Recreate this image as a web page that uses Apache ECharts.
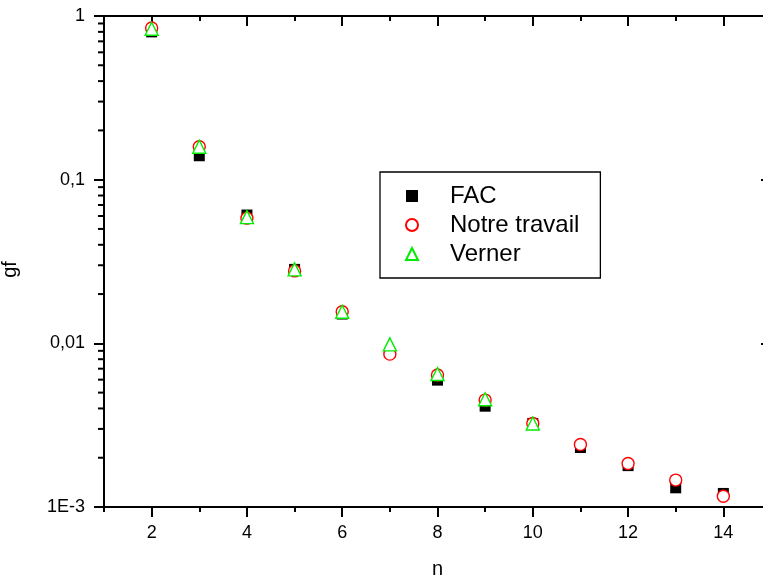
<!DOCTYPE html>
<html>
<head>
<meta charset="utf-8">
<script src="https://cdn.jsdelivr.net/npm/echarts@6/dist/echarts.min.js"></script>
<style>html,body{margin:0;padding:0;background:#fff}#c{width:763px;height:581px}</style>
</head>
<body>
<div id="c"></div>
<script>
// ---- data ----
var nValues = [2, 3, 4, 5, 6, 7, 8, 9, 10, 11, 12, 13, 14];
var facValues = [0.80, 0.140, 0.0608, 0.0283, 0.0151, null, 0.00596, 0.00413, 0.00324, 0.00231, 0.00179, 0.00131, 0.00121];
var notreValues = [0.845, 0.159, 0.0582, 0.0277, 0.0156, 0.00859, 0.0064, 0.0045, 0.00324, 0.00241, 0.001845, 0.00146, 0.001164];
var vernerN = [2, 3, 4, 5, 6, 7, 8, 9, 10];
var vernerValues = [0.836, 0.159, 0.059, 0.0283, 0.0156, 0.00985, 0.0065, 0.00455, 0.00324];
var xCategories = ['1','2','3','4','5','6','7','8','9','10','11','12','13','14','15'];
var xTickLabels = ['', '2', '', '4', '', '6', '', '8', '', '10', '', '12', '', '14', ''];
var yTickValues = [0.001, 0.01, 0.1, 1];
var yTickLabels = ['1E-3', '0,01', '0,1', '1'];
var yMinorTickValues = [0.002,0.003,0.004,0.005,0.006,0.007,0.008,0.009,
                        0.02,0.03,0.04,0.05,0.06,0.07,0.08,0.09,
                        0.2,0.3,0.4,0.5,0.6,0.7,0.8,0.9];
var seriesNames = ['FAC', 'Notre travail', 'Verner'];
var X_MIN = 1, X_MAX = 15;

function pairs(xs, ys) {
  var out = [];
  for (var i = 0; i < xs.length; i++) if (ys[i] != null) out.push([xs[i], ys[i]]);
  return out;
}
function yLabel(v) {
  for (var i = 0; i < yTickValues.length; i++) {
    if (Math.abs(Math.log10(v) - Math.log10(yTickValues[i])) < 1e-6) return yTickLabels[i];
  }
  return '';
}

var FONT = 'Liberation Sans, Arial, sans-serif';
var lineStyle = {color: '#000', width: 2};
var isMajor = function (idx) { return idx % 2 === 1; };

var chart = echarts.init(document.getElementById('c'), null, {renderer: 'canvas'});
chart.setOption({
  animation: false,
  backgroundColor: '#fff',
  grid: {left: 104, top: 16, right: -8, bottom: 74, containLabel: false, outerBoundsMode: 'none'},
  legend: {
    orient: 'vertical', left: 380, top: 172,
    padding: [12, 21, 12, 25],
    itemGap: 5, itemWidth: 12, itemHeight: 12,
    borderColor: '#000', borderWidth: 1.3, borderRadius: 0,
    backgroundColor: '#fff',
    textStyle: {fontFamily: FONT, fontSize: 24, color: '#000', padding: [0, 0, 0, 27]},
    data: seriesNames
  },
  xAxis: [
    {type: 'value', min: X_MIN, max: X_MAX, show: false, gridIndex: 0},
    {type: 'category', data: xCategories, boundaryGap: false, position: 'bottom',
     axisLine: {show: true, lineStyle: lineStyle},
     axisTick: {show: true, length: 10, inside: false, interval: isMajor, lineStyle: lineStyle},
     axisLabel: {interval: isMajor, formatter: function (v, i) { return xTickLabels[i]; },
                 margin: 17, fontFamily: FONT, fontSize: 18, color: '#000'},
     splitLine: {show: false},
     name: 'n', nameLocation: 'middle', nameGap: 52,
     nameTextStyle: {fontFamily: FONT, fontSize: 20, color: '#000'}},
    {type: 'category', data: xCategories, boundaryGap: false, position: 'bottom',
     axisLine: {show: false}, axisLabel: {show: false}, splitLine: {show: false},
     axisTick: {show: true, length: 5, inside: false, interval: 0, lineStyle: lineStyle}},
    {type: 'category', data: xCategories, boundaryGap: false, position: 'top',
     axisLine: {show: true, lineStyle: lineStyle}, axisLabel: {show: false}, splitLine: {show: false},
     axisTick: {show: true, length: 10, inside: true, interval: isMajor, lineStyle: lineStyle}},
    {type: 'category', data: xCategories, boundaryGap: false, position: 'top',
     axisLine: {show: false}, axisLabel: {show: false}, splitLine: {show: false},
     axisTick: {show: true, length: 5, inside: true, interval: 0, lineStyle: lineStyle}}
  ],
  yAxis: [
    {type: 'log', logBase: 10, min: 0.001, max: 1, splitNumber: 3, position: 'left',
     axisLine: {show: true, lineStyle: lineStyle},
     axisTick: {show: true, length: 10, inside: false, lineStyle: lineStyle},
     axisLabel: {formatter: yLabel, margin: 19, fontFamily: FONT, fontSize: 18, color: '#000'},
     splitLine: {show: false},
     name: 'gf', nameLocation: 'middle', nameGap: 84,
     nameTextStyle: {fontFamily: FONT, fontSize: 20, color: '#000', padding: [0, 16, 0, 0]}},
    {type: 'log', logBase: 10, min: 0.001, max: 1, splitNumber: 3, position: 'right',
     axisLine: {show: true, lineStyle: lineStyle},
     axisTick: {show: true, length: 10, inside: true, lineStyle: lineStyle},
     axisLabel: {show: false}, splitLine: {show: false}}
  ],
  series: [
    {type: 'custom', name: '_minorTicks', xAxisIndex: 0, yAxisIndex: 0, clip: false, silent: true,
     data: yMinorTickValues.map(function (v) { return [X_MIN, v]; }),
     renderItem: function (params, api) {
       var p = api.coord([api.value(0), api.value(1)]);
       return {type: 'line', shape: {x1: p[0] - 6, y1: p[1], x2: p[0], y2: p[1]},
               style: {stroke: '#000', lineWidth: 2}};
     }},
    {type: 'scatter', name: seriesNames[0], xAxisIndex: 0, yAxisIndex: 0,
     symbol: 'rect', symbolSize: 11, z: 3,
     itemStyle: {color: '#000', opacity: 1},
     data: pairs(nValues, facValues)},
    {type: 'scatter', name: seriesNames[1], xAxisIndex: 0, yAxisIndex: 0,
     symbol: 'circle', symbolSize: 12, z: 4,
     itemStyle: {color: '#fff', borderColor: '#ff0000', borderWidth: 1.4, opacity: 1},
     data: pairs(nValues, notreValues)},
    {type: 'scatter', name: seriesNames[2], xAxisIndex: 0, yAxisIndex: 0,
     symbol: 'triangle', symbolSize: 13, z: 5,
     itemStyle: {color: '#fff', borderColor: '#00ee00', borderWidth: 1.4, opacity: 1},
     data: pairs(vernerN, vernerValues)}
  ]
});
</script>
</body>
</html>
